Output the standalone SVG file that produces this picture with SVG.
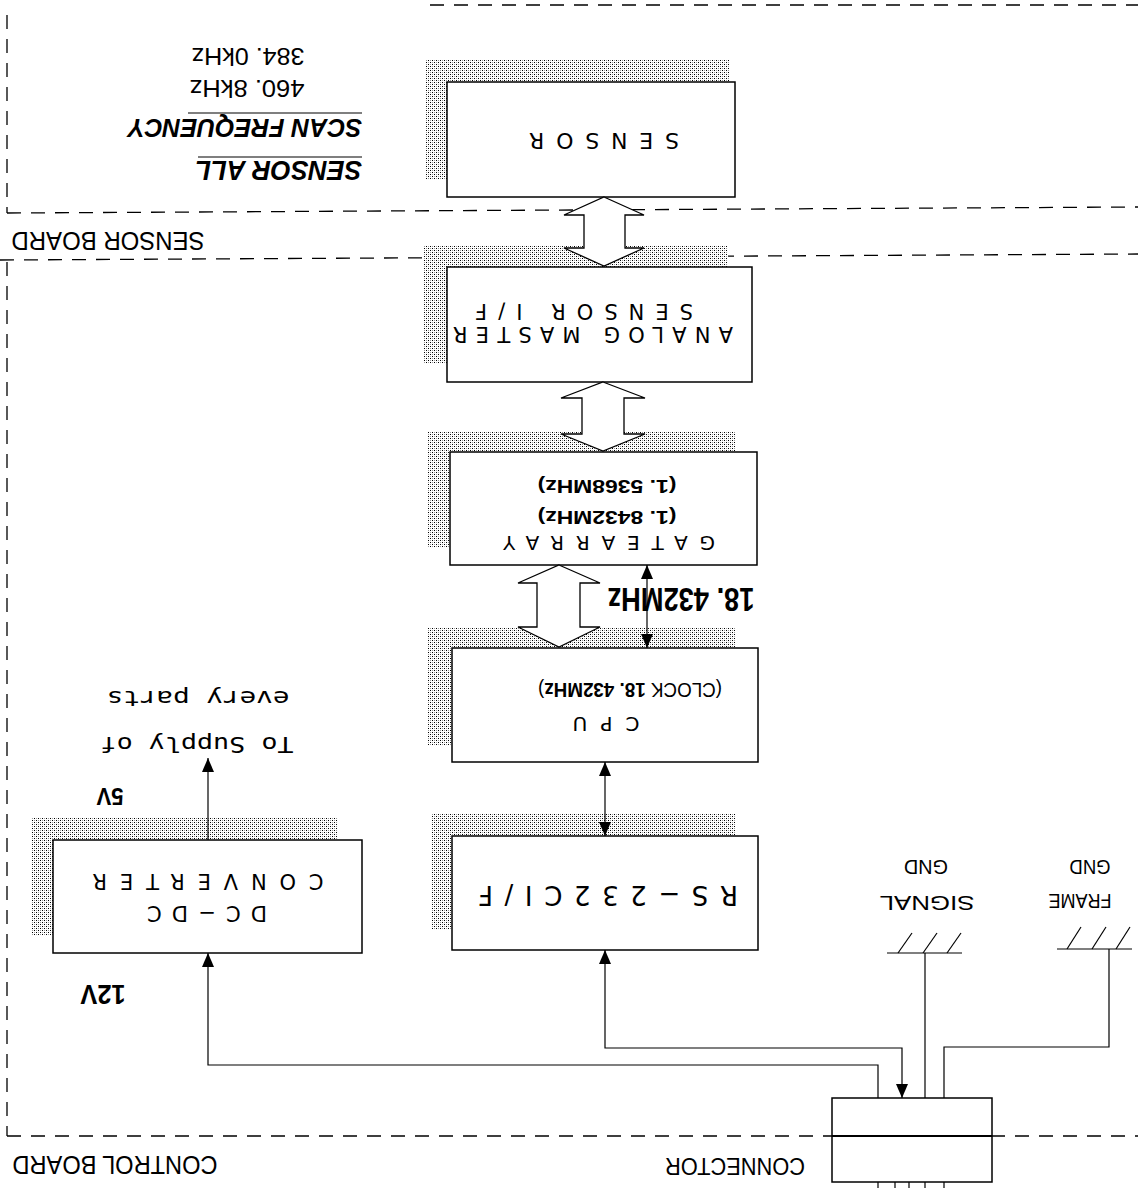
<svg xmlns="http://www.w3.org/2000/svg" width="1138" height="1188" viewBox="0 0 1138 1188">
<style>
.box{fill:#fff;stroke:#000;stroke-width:1.5}
.sh{fill:url(#dots)}
.t{font-family:"Liberation Sans",Arial,sans-serif;fill:#000}
.w{font-family:"DejaVu Sans","Liberation Sans",sans-serif;fill:#000}
.m{font-family:"DejaVu Sans Mono","Liberation Mono",monospace;fill:#000}
.b{font-weight:bold}
.bi{font-weight:bold;font-style:italic}
.dash{stroke:#000;stroke-width:1.3;stroke-dasharray:14 10;fill:none}
.ln{stroke:#000;stroke-width:1.2;fill:none}
.arr{stroke:#000;stroke-width:1.2;fill:none;marker-end:url(#ah)}
.arr2{stroke:#000;stroke-width:1.2;fill:none;marker-start:url(#ah);marker-end:url(#ah)}
.blk{fill:#fff;stroke:#000;stroke-width:1.3}
</style>
<defs>
<pattern id="dots" width="4" height="4" patternUnits="userSpaceOnUse">
<rect width="4" height="4" fill="#fff"/>
<rect x="0" y="0" width="1" height="1" fill="#000"/>
<rect x="2" y="2" width="1" height="1" fill="#000"/>
<rect x="2" y="0" width="1" height="1" fill="#999"/>
<rect x="0" y="2" width="1" height="1" fill="#999"/>
</pattern>
<marker id="ah" markerUnits="userSpaceOnUse" markerWidth="14" markerHeight="12" viewBox="0 0 14 12" refX="14" refY="6" orient="auto-start-reverse">
<path d="M0,0 L14,6 L0,12 z" fill="#000"/>
</marker>
</defs>
<rect width="1138" height="1188" fill="#fff"/>

<g id="boards">
<line class="dash" x1="430" y1="5" x2="1138" y2="5"/>
<line class="dash" x1="7" y1="15" x2="7" y2="213"/>
<line class="dash" x1="7" y1="213" x2="1138" y2="207"/>
<line class="dash" x1="0" y1="260" x2="1138" y2="254"/>
<line class="dash" x1="7" y1="262" x2="7" y2="1136"/>
<line class="dash" x1="7" y1="1136" x2="1138" y2="1136"/>
<text class="t" x="108" y="232" font-size="25" text-anchor="middle" textLength="193" lengthAdjust="spacingAndGlyphs" transform="rotate(180 108 232)">SENSOR BOARD</text>
<text class="t" x="115" y="1156" font-size="25" text-anchor="middle" textLength="205" lengthAdjust="spacingAndGlyphs" transform="rotate(180 115 1156)">CONTROL BOARD</text>
</g>

<g id="freq-note">
<text class="t" x="248" y="48" font-size="23" text-anchor="middle" textLength="113" lengthAdjust="spacingAndGlyphs" transform="rotate(180 248 48)">384. 0kHz</text>
<text class="t" x="247" y="80" font-size="23" text-anchor="middle" textLength="115" lengthAdjust="spacingAndGlyphs" transform="rotate(180 247 80)">460. 8kHz</text>
<line class="ln" x1="188" y1="113" x2="362" y2="113" stroke-width="1.8"/>
<text class="t bi" x="362" y="119" font-size="25" textLength="234" lengthAdjust="spacingAndGlyphs" transform="rotate(180 362 119)">SCAN FREQUENCY</text>
<line class="ln" x1="198" y1="157" x2="362" y2="157" stroke-width="1.8"/>
<text class="t bi" x="362" y="161" font-size="27" textLength="167" lengthAdjust="spacingAndGlyphs" transform="rotate(180 362 161)">SENSOR ALL</text>
</g>

<g id="sensor">
<rect class="sh" x="425" y="60" width="305" height="120"/>
<rect class="box" x="447" y="82" width="288" height="115"/>
<text class="w" x="604" y="133" font-size="22" text-anchor="middle" textLength="150" lengthAdjust="spacing" transform="rotate(180 604 133)">SENSOR</text>
</g>

<g id="analog">
<rect class="sh" x="423" y="245" width="305" height="118"/>
<rect class="box" x="447" y="267" width="305" height="115"/>
<text class="w" x="593" y="327" font-size="21" text-anchor="middle" textLength="280" lengthAdjust="spacing" transform="rotate(180 593 327)">ANALOG MASTER</text>
<text class="w" x="584" y="304" font-size="21" text-anchor="middle" textLength="218" lengthAdjust="spacing" transform="rotate(180 584 304)">SENSOR I/F</text>
</g>

<g id="gatearray">
<rect class="sh" x="428" y="432" width="307" height="116"/>
<rect class="box" x="450" y="452" width="307" height="113"/>
<text class="w" x="609" y="536" font-size="20" text-anchor="middle" textLength="212" lengthAdjust="spacing" transform="rotate(180 609 536)">GATEARRAY</text>
<text class="t b" x="607" y="511" font-size="19" text-anchor="middle" textLength="139" lengthAdjust="spacingAndGlyphs" transform="rotate(180 607 511)">(1. 8432MHz)</text>
<text class="t b" x="607" y="480" font-size="19" text-anchor="middle" textLength="139" lengthAdjust="spacingAndGlyphs" transform="rotate(180 607 480)">(1. 5368MHz)</text>
</g>

<g id="cpu">
<rect class="sh" x="428" y="628" width="307" height="117"/>
<rect class="box" x="452" y="648" width="306" height="114"/>
<text class="w" x="606" y="717" font-size="20" text-anchor="middle" textLength="67" lengthAdjust="spacing" transform="rotate(180 606 717)">CPU</text>
<text class="t" x="630" y="683" font-size="20" text-anchor="middle" textLength="184" lengthAdjust="spacingAndGlyphs" transform="rotate(180 630 683)">(CLOCK <tspan class="b">18. 432MHz</tspan>)</text>
</g>

<g id="rs232c">
<rect class="sh" x="432" y="814" width="303" height="116"/>
<rect class="box" x="452" y="836" width="306" height="114"/>
<text class="w" x="608" y="886" font-size="26" text-anchor="middle" textLength="260" lengthAdjust="spacing" transform="rotate(180 608 886)">RS−232CI/F</text>
</g>

<g id="dcdc">
<rect class="sh" x="32" y="817" width="306" height="118"/>
<rect class="box" x="53" y="840" width="309" height="113"/>
<text class="w" x="208" y="874" font-size="21" text-anchor="middle" textLength="231" lengthAdjust="spacing" transform="rotate(180 208 874)">CONVERTER</text>
<text class="w" x="207" y="906" font-size="21" text-anchor="middle" textLength="120" lengthAdjust="spacing" transform="rotate(180 207 906)">DC−DC</text>
</g>

<g id="supply-note">
<text class="t b" x="110" y="788" font-size="23" text-anchor="middle" textLength="27" lengthAdjust="spacingAndGlyphs" transform="rotate(180 110 788)">5V</text>
<text class="t b" x="103" y="985" font-size="27" text-anchor="middle" textLength="45" lengthAdjust="spacingAndGlyphs" transform="rotate(180 103 985)">12V</text>
<text class="m" x="197" y="737" font-size="22" text-anchor="middle" textLength="193" lengthAdjust="spacingAndGlyphs" transform="rotate(180 197 737)">To Supply of</text>
<text class="m" x="198" y="691" font-size="22" text-anchor="middle" textLength="183" lengthAdjust="spacingAndGlyphs" transform="rotate(180 198 691)">every parts</text>
</g>

<g id="clock-label">
<text class="t b" x="681" y="588" font-size="34" text-anchor="middle" textLength="147" lengthAdjust="spacingAndGlyphs" transform="rotate(180 681 588)">18. 432MHz</text>
</g>

<g id="signal-gnd">
<line class="ln" x1="887" y1="953" x2="962" y2="953"/>
<line class="ln" x1="898" y1="953" x2="912" y2="933"/>
<line class="ln" x1="923" y1="953" x2="937" y2="933"/>
<line class="ln" x1="947" y1="953" x2="961" y2="933"/>
<text class="t" x="927" y="896" font-size="21" text-anchor="middle" textLength="95" lengthAdjust="spacingAndGlyphs" transform="rotate(180 927 896)">SIGNAL</text>
<text class="t" x="926" y="860" font-size="21" text-anchor="middle" textLength="44" lengthAdjust="spacingAndGlyphs" transform="rotate(180 926 860)">GND</text>
</g>

<g id="frame-gnd">
<line class="ln" x1="1057" y1="949" x2="1132" y2="949"/>
<line class="ln" x1="1067" y1="949" x2="1081" y2="927"/>
<line class="ln" x1="1092" y1="949" x2="1106" y2="927"/>
<line class="ln" x1="1116" y1="949" x2="1130" y2="927"/>
<text class="t" x="1080" y="894" font-size="21" text-anchor="middle" textLength="63" lengthAdjust="spacingAndGlyphs" transform="rotate(180 1080 894)">FRAME</text>
<text class="t" x="1090" y="860" font-size="21" text-anchor="middle" textLength="41" lengthAdjust="spacingAndGlyphs" transform="rotate(180 1090 860)">GND</text>
</g>

<g id="connector">
<rect class="box" x="832" y="1098" width="160" height="84"/>
<line x1="832" y1="1136" x2="992" y2="1136" stroke="#000" stroke-width="2.2"/>
<line class="ln" x1="878" y1="1182" x2="878" y2="1188"/>
<line class="ln" x1="895" y1="1182" x2="895" y2="1188"/>
<line class="ln" x1="909" y1="1182" x2="909" y2="1188"/>
<line class="ln" x1="925" y1="1182" x2="925" y2="1188"/>
<line class="ln" x1="944" y1="1182" x2="944" y2="1188"/>
<text class="t" x="735" y="1158" font-size="24" text-anchor="middle" textLength="140" lengthAdjust="spacingAndGlyphs" transform="rotate(180 735 1158)">CONNECTOR</text>
</g>

<g id="connectors">
<polygon class="blk" points="604,197 644,215 625,215 625,248 644,248 604,266 564,248 584,248 584,215 564,215"/>
<polygon class="blk" points="603,382 645,398 624,398 624,434 645,434 603,451 561,434 582,434 582,398 561,398"/>
<polygon class="blk" points="559,565 600,583 580,583 580,627 600,627 559,647 518,627 537,627 537,583 518,583"/>
<path class="arr2" d="M647,565 V648"/>
<path class="arr2" d="M605,762 V836"/>
<path class="arr2" d="M605,950 V1048 H902 V1098"/>
<path class="arr" d="M208,840 V758"/>
<path class="arr" d="M878,1098 V1065 H208 V953"/>
<path class="ln" d="M925,953 V1098"/>
<path class="ln" d="M1109,949 V1047 H944 V1098"/>
</g>
</svg>
